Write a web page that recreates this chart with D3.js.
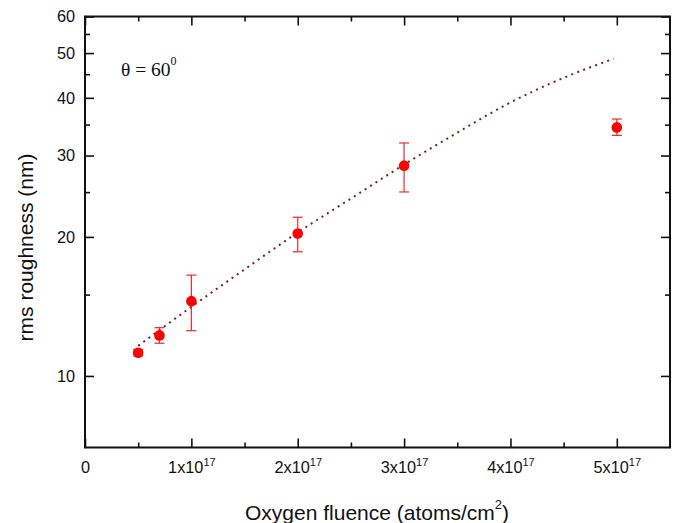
<!DOCTYPE html>
<html><head><meta charset="utf-8">
<script src="https://cdn.jsdelivr.net/npm/d3@7"></script>
<style>
html,body{margin:0;padding:0;background:#fff;}
svg{display:block;}
</style>
</head><body>
<svg id="chart" width="674" height="523"></svg>
<script>
// ---- data ----
const fluence   = [0.5e17, 0.7e17, 1e17, 2e17, 3e17, 5e17];
const roughness = [11.23, 12.24, 14.52, 20.34, 28.53, 34.52];
const errLow    = [11.05, 11.77, 12.53, 18.57, 25.02, 33.17];
const errHigh   = [11.41, 12.72, 16.53, 22.06, 31.94, 35.99];

const fitX = [0.5e17, 1e17, 1.5e17, 2e17, 2.5e17, 3e17, 3.5e17, 4e17, 4.5e17, 4.97e17];
const fitY = [11.62, 14.11, 17.01, 20.44, 24.21, 28.68, 33.62, 39.09, 44.20, 48.6];

const yMajor = [10, 20, 30, 40, 50, 60];
const yMinor = [15, 25, 35, 45, 55];
const xMajor = [0, 1e17, 2e17, 3e17, 4e17, 5e17];
const xMinor = [0.5e17, 1.5e17, 2.5e17, 3.5e17, 4.5e17];

const xTitle = "Oxygen fluence (atoms/cm";
const yTitle = "rms roughness (nm)";

// ---- layout ----
const L = 85, R = 670, T = 16.5, B = 447.5;
const svg = d3.select("#chart");
const x = d3.scaleLinear().domain([0, 5.5e17]).range([L, R]);
const y = d3.scaleLog().domain([7, 60]).range([B, T]);

const font = "'Liberation Sans', Arial, Helvetica, sans-serif";
const tickFont = 16.3;

function styleAxis(g, w) {
  g.select(".domain").remove();
  g.selectAll(".tick line").attr("stroke", "#111").attr("stroke-width", w);
}

// left axis
const gl = svg.append("g").attr("transform", `translate(${L},0)`)
  .call(d3.axisLeft(y).tickValues(yMajor).tickSizeInner(-9).tickSizeOuter(0).tickPadding(10).tickFormat(d3.format("d")));
styleAxis(gl, 1.6);
gl.selectAll("text").attr("font-family", font).attr("font-size", tickFont).attr("fill", "#111");
const glm = svg.append("g").attr("transform", `translate(${L},0)`)
  .call(d3.axisLeft(y).tickValues(yMinor).tickSizeInner(-5).tickSizeOuter(0).tickFormat(""));
styleAxis(glm, 1.6);

// right axis
const gr = svg.append("g").attr("transform", `translate(${R},0)`)
  .call(d3.axisRight(y).tickValues(yMajor).tickSizeInner(-9).tickSizeOuter(0).tickFormat(""));
styleAxis(gr, 1.6);
const grm = svg.append("g").attr("transform", `translate(${R},0)`)
  .call(d3.axisRight(y).tickValues(yMinor).tickSizeInner(-5).tickSizeOuter(0).tickFormat(""));
styleAxis(grm, 1.6);

// bottom axis
const gb = svg.append("g").attr("transform", `translate(0,${B})`)
  .call(d3.axisBottom(x).tickValues(xMajor).tickSizeInner(-9).tickSizeOuter(0).tickPadding(14).tickFormat(""));
styleAxis(gb, 1.6);
gb.selectAll(".tick text").each(function(d) {
  const t = d3.select(this).attr("font-family", font).attr("font-size", tickFont).attr("fill", "#111");
  if (d === 0) { t.text("0"); return; }
  const m = Math.round(d / 1e17);
  t.append("tspan").text(m + "x10");
  t.append("tspan").attr("font-size", 11).attr("dy", "-0.6em").text("17");
});
const gbm = svg.append("g").attr("transform", `translate(0,${B})`)
  .call(d3.axisBottom(x).tickValues(xMinor).tickSizeInner(-5).tickSizeOuter(0).tickFormat(""));
styleAxis(gbm, 1.6);

// top axis
const gt = svg.append("g").attr("transform", `translate(0,${T})`)
  .call(d3.axisTop(x).tickValues(xMajor).tickSizeInner(-9).tickSizeOuter(0).tickFormat(""));
styleAxis(gt, 1.6);
const gtm = svg.append("g").attr("transform", `translate(0,${T})`)
  .call(d3.axisTop(x).tickValues(xMinor).tickSizeInner(-5).tickSizeOuter(0).tickFormat(""));
styleAxis(gtm, 1.6);

// frame
svg.append("rect").attr("x", L).attr("y", T).attr("width", R - L).attr("height", B - T)
  .attr("fill", "none").attr("stroke", "#111").attr("stroke-width", 2);

// fit line
const fitData = fitX.map((v, i) => [v, fitY[i]]);
svg.append("path").datum(fitData)
  .attr("d", d3.line().x(d => x(d[0])).y(d => y(d[1])).curve(d3.curveMonotoneX))
  .attr("fill", "none").attr("stroke", "#7a1e28").attr("stroke-width", 2)
  .attr("stroke-dasharray", "2,4.4").attr("stroke-linecap", "butt");

// error bars
const eb = svg.append("g").attr("stroke", "#f02828").attr("stroke-width", 1.2);
fluence.forEach((f, i) => {
  const cx = x(f);
  eb.append("line").attr("x1", cx).attr("x2", cx).attr("y1", y(errLow[i])).attr("y2", y(errHigh[i]));
  eb.append("line").attr("x1", cx - 5).attr("x2", cx + 5).attr("y1", y(errLow[i])).attr("y2", y(errLow[i]));
  eb.append("line").attr("x1", cx - 5).attr("x2", cx + 5).attr("y1", y(errHigh[i])).attr("y2", y(errHigh[i]));
});

// points
svg.append("g").selectAll("circle").data(fluence).join("circle")
  .attr("cx", d => x(d)).attr("cy", (d, i) => y(roughness[i])).attr("r", 5.3)
  .attr("fill", "#ff0000");

// annotation
const ann = svg.append("text").attr("x", 121).attr("y", 76)
  .attr("font-family", "'Liberation Serif', 'Times New Roman', serif").attr("font-size", 19.5).attr("fill", "#111");
ann.append("tspan").text("θ = 60");
ann.append("tspan").attr("font-size", 12).attr("dy", "-0.95em").text("0");

// axis titles
const xt = svg.append("text").attr("x", 377).attr("y", 520).attr("text-anchor", "middle")
  .attr("font-family", font).attr("font-size", 21).attr("fill", "#111");
xt.append("tspan").text(xTitle);
xt.append("tspan").attr("font-size", 13).attr("dy", "-0.85em").text("2");
xt.append("tspan").attr("dy", "0.52em").text(")");

svg.append("text").attr("transform", "translate(33,247.5) rotate(-90)").attr("text-anchor", "middle")
  .attr("font-family", font).attr("font-size", 21).attr("fill", "#111").text(yTitle);
</script>
</body></html>
